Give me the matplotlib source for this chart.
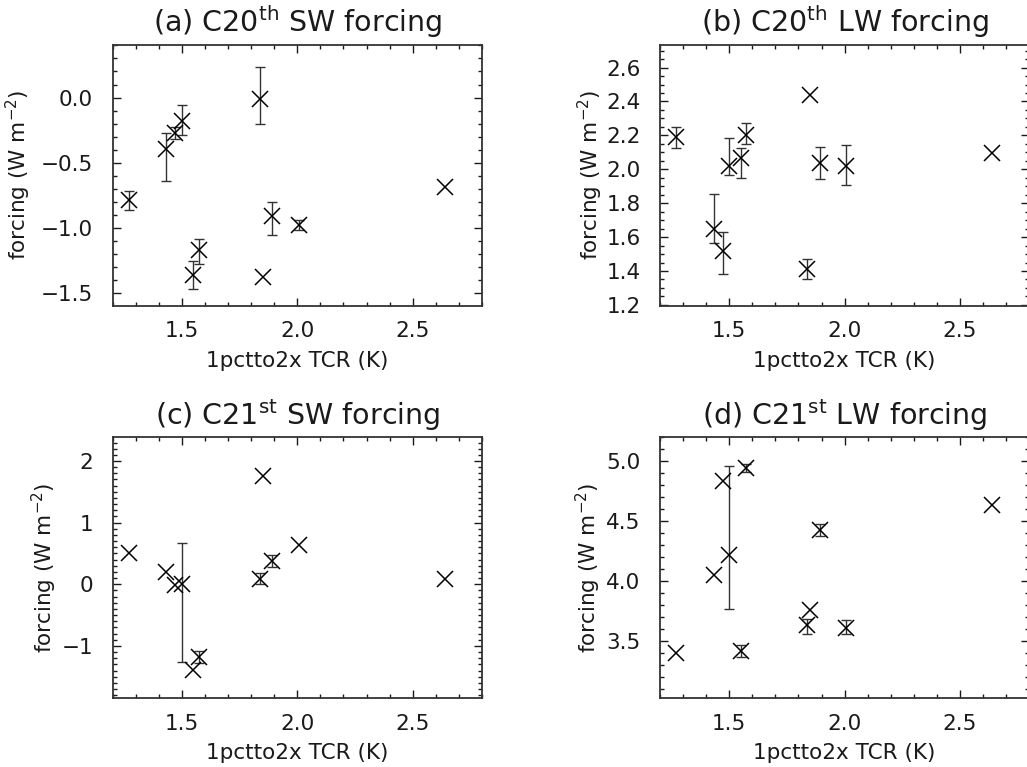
#!/usr/bin/env python

import numpy as np
import matplotlib
matplotlib.use('Agg')
import matplotlib.pyplot as plt
from matplotlib.ticker import MultipleLocator, FuncFormatter

nan = np.nan

# transient climate response of each model (K)
tcr = [1.269, 1.432, 1.471, 1.499, 1.549, 1.572, 1.838, 1.850, 1.892, 2.006, 2.638]

# C20th shortwave forcing, with ensemble range (nan where only one member)
sw20 = [-0.783, -0.395, -0.273, -0.181, -1.357, -1.171, -0.013, -1.375, -0.911, -0.974, -0.689]
sw20_lo = [-0.860, -0.638, -0.314, -0.286, -1.467, -1.276, -0.204, nan, -1.056, -1.013, nan]
sw20_hi = [-0.719, -0.273, -0.227, -0.056, -1.255, -1.084, 0.232, nan, -0.801, -0.941, nan]

# C20th longwave forcing
lw20 = [2.188, 1.648, 1.518, 2.020, 2.068, 2.205, 1.414, 2.436, 2.039, 2.020, 2.098]
lw20_lo = [2.123, 1.564, 1.385, 1.965, 1.951, 2.152, 1.352, nan, 1.941, 1.908, nan]
lw20_hi = [2.248, 1.854, 1.629, 2.186, 2.127, 2.273, 1.469, nan, 2.133, 2.143, nan]

# C21st shortwave forcing
sw21 = [0.503, 0.195, -0.020, 0.010, -1.389, -1.173, 0.081, 1.762, 0.378, 0.638, 0.081]
sw21_lo = [nan, nan, nan, -1.265, nan, -1.270, 0.005, nan, 0.276, nan, nan]
sw21_hi = [nan, nan, nan, 0.665, nan, -1.076, 0.178, nan, 0.476, nan, nan]

# C21st longwave forcing
lw21 = [3.400, 4.047, 4.833, 4.214, 3.417, 4.944, 3.631, 3.756, 4.422, 3.608, 4.631]
lw21_lo = [nan, nan, nan, 3.769, 3.367, 4.914, 3.556, nan, 4.372, 3.556, nan]
lw21_hi = [nan, nan, nan, 4.958, 3.469, 4.978, 3.678, nan, 4.478, 3.672, nan]

plt.rcParams['font.family'] = ['DejaVu Sans']
plt.rcParams['mathtext.default'] = 'regular'

ink = '#1a1a1a'


def minus_fmt(ndp):
    # long minus sign like the old plotting packages used
    def f(v, pos):
        s = '%.*f' % (ndp, v)
        if s.startswith('-'):
            s = '\u2212' + s[1:]
        if s in ('\u22120', '\u22120.0'):
            s = s[1:]
        return s
    return FuncFormatter(f)


def forcing_panel(ax, y, lo, hi, title, ylim, major, minor, ndp, ylab_x):
    x = np.array(tcr)
    y = np.array(y)
    lo = np.array(lo)
    hi = np.array(hi)
    has = ~np.isnan(lo)
    ax.errorbar(x[has], y[has], yerr=[y[has] - lo[has], hi[has] - y[has]],
                fmt='none', ecolor='#333333', elinewidth=1.0, capsize=3.5,
                capthick=1.0)
    ax.plot(x, y, 'x', color='black', markersize=11.5, markeredgewidth=1.1)

    ax.set_xlim(1.2, 2.8)
    ax.set_ylim(*ylim)
    ax.xaxis.set_major_locator(MultipleLocator(0.5))
    ax.xaxis.set_minor_locator(MultipleLocator(0.1))
    ax.xaxis.set_major_formatter(minus_fmt(1))
    ax.yaxis.set_major_locator(MultipleLocator(major))
    ax.yaxis.set_minor_locator(MultipleLocator(minor))
    ax.yaxis.set_major_formatter(minus_fmt(ndp))

    ax.tick_params(which='both', direction='in', top=True, right=True,
                   colors=ink, width=1.0, labelsize=15.5, labelcolor=ink)
    ax.tick_params(which='major', length=5.5)
    ax.tick_params(which='minor', length=3)
    ax.tick_params(axis='y', pad=14)
    ax.tick_params(axis='x', pad=11)
    for s in ax.spines.values():
        s.set_linewidth(1.3)
        s.set_color('#333333')

    ax.set_title(title, fontsize=20.5, color=ink, pad=9)
    ax.set_xlabel('1pctto2x TCR (K)', fontsize=15.5, color=ink, labelpad=7)
    ax.set_ylabel('forcing (W m$^{-2}$)', fontsize=15.5, color=ink)
    ax.yaxis.set_label_coords(ylab_x, 0.5)


fig = plt.figure(figsize=(10.27, 7.67), dpi=100)
w, h = 0.3596, 0.3403
ax_a = fig.add_axes([0.1097, 0.6014, w, h])
ax_b = fig.add_axes([0.6426, 0.6014, w, h])
ax_c = fig.add_axes([0.1097, 0.0896, w, h])
ax_d = fig.add_axes([0.6426, 0.0896, w, h])

forcing_panel(ax_a, sw20, sw20_lo, sw20_hi, '(a) C20$^{th}$ SW forcing',
              (-1.595, 0.405), 0.5, 0.1, 1, -0.216)
forcing_panel(ax_b, lw20, lw20_lo, lw20_hi, '(b) C20$^{th}$ LW forcing',
              (1.195, 2.735), 0.2, 0.05, 1, -0.150)
forcing_panel(ax_c, sw21, sw21_lo, sw21_hi, '(c) C21$^{st}$ SW forcing',
              (-1.85, 2.385), 1.0, 0.1, 0, -0.144)
forcing_panel(ax_d, lw21, lw21_lo, lw21_hi, '(d) C21$^{st}$ LW forcing',
              (3.02, 5.2), 0.5, 0.1, 1, -0.153)

fig.savefig('out.png', dpi=100)
